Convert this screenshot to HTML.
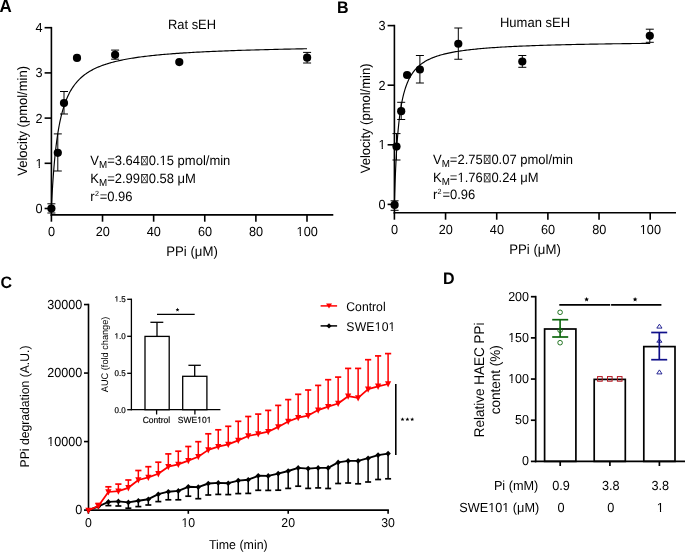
<!DOCTYPE html>
<html><head><meta charset="utf-8"><style>
html,body{margin:0;padding:0;background:#fff;}
svg{display:block;font-family:"Liberation Sans", sans-serif;will-change:transform;text-rendering:geometricPrecision;}
</style></head><body>
<svg width="685" height="552" viewBox="0 0 685 552">
<rect width="685" height="552" fill="#fff"/>
<line x1="51.40" y1="26.90" x2="51.40" y2="215.70" stroke="#000" stroke-width="1.6"/>
<line x1="44.60" y1="208.50" x2="51.40" y2="208.50" stroke="#000" stroke-width="1.6"/>
<text transform="matrix(1,0,0,1.04,0,-8.520)" x="42.60" y="213.00" font-size="12.7" text-anchor="end" font-weight="normal" fill="#000" >0</text>
<line x1="44.60" y1="163.30" x2="51.40" y2="163.30" stroke="#000" stroke-width="1.6"/>
<text transform="matrix(1,0,0,1.04,0,-6.712)" x="42.60" y="167.80" font-size="12.7" text-anchor="end" font-weight="normal" fill="#000" >1</text>
<line x1="44.60" y1="118.10" x2="51.40" y2="118.10" stroke="#000" stroke-width="1.6"/>
<text transform="matrix(1,0,0,1.04,0,-4.904)" x="42.60" y="122.60" font-size="12.7" text-anchor="end" font-weight="normal" fill="#000" >2</text>
<line x1="44.60" y1="72.90" x2="51.40" y2="72.90" stroke="#000" stroke-width="1.6"/>
<text transform="matrix(1,0,0,1.04,0,-3.096)" x="42.60" y="77.40" font-size="12.7" text-anchor="end" font-weight="normal" fill="#000" >3</text>
<line x1="44.60" y1="27.70" x2="51.40" y2="27.70" stroke="#000" stroke-width="1.6"/>
<text transform="matrix(1,0,0,1.04,0,-1.288)" x="42.60" y="32.20" font-size="12.7" text-anchor="end" font-weight="normal" fill="#000" >4</text>
<line x1="50.60" y1="214.90" x2="333.30" y2="214.90" stroke="#000" stroke-width="1.6"/>
<line x1="51.40" y1="214.90" x2="51.40" y2="221.70" stroke="#000" stroke-width="1.6"/>
<text transform="matrix(1,0,0,1.04,0,-9.428)" x="51.60" y="235.70" font-size="12.7" text-anchor="middle" font-weight="normal" fill="#000" >0</text>
<line x1="102.52" y1="214.90" x2="102.52" y2="221.70" stroke="#000" stroke-width="1.6"/>
<text transform="matrix(1,0,0,1.04,0,-9.428)" x="102.72" y="235.70" font-size="12.7" text-anchor="middle" font-weight="normal" fill="#000" >20</text>
<line x1="153.64" y1="214.90" x2="153.64" y2="221.70" stroke="#000" stroke-width="1.6"/>
<text transform="matrix(1,0,0,1.04,0,-9.428)" x="153.84" y="235.70" font-size="12.7" text-anchor="middle" font-weight="normal" fill="#000" >40</text>
<line x1="204.76" y1="214.90" x2="204.76" y2="221.70" stroke="#000" stroke-width="1.6"/>
<text transform="matrix(1,0,0,1.04,0,-9.428)" x="204.96" y="235.70" font-size="12.7" text-anchor="middle" font-weight="normal" fill="#000" >60</text>
<line x1="255.88" y1="214.90" x2="255.88" y2="221.70" stroke="#000" stroke-width="1.6"/>
<text transform="matrix(1,0,0,1.04,0,-9.428)" x="256.08" y="235.70" font-size="12.7" text-anchor="middle" font-weight="normal" fill="#000" >80</text>
<line x1="307.00" y1="214.90" x2="307.00" y2="221.70" stroke="#000" stroke-width="1.6"/>
<text transform="matrix(1,0,0,1.04,0,-9.428)" x="307.20" y="235.70" font-size="12.7" text-anchor="middle" font-weight="normal" fill="#000" >100</text>
<text transform="matrix(1,0,0,1.04,0,-10.260)" x="192.00" y="256.50" font-size="13.2" text-anchor="middle" font-weight="normal" fill="#000" >PPi (μM)</text>
<text transform="matrix(1,0,0,1.04,0,-1.168)" x="192.00" y="29.20" font-size="12.9" text-anchor="middle" font-weight="normal" fill="#000" >Rat sEH</text>
<text x="0" y="0" font-size="13" text-anchor="middle" fill="#000" transform="translate(26.90,120.90) rotate(-90) scale(1,1.04)">Velocity (pmol/min)</text>
<text transform="matrix(1,0,0,1.04,0,-0.472)" x="-0.50" y="11.80" font-size="17.0" text-anchor="start" font-weight="bold" fill="#000" >A</text>
<polyline points="51.40,208.50 51.41,208.36 51.43,207.95 51.46,207.27 51.50,206.33 51.56,205.13 51.63,203.69 51.71,202.02 51.81,200.14 51.92,198.06 52.04,195.80 52.17,193.38 52.32,190.82 52.48,188.13 52.65,185.33 52.84,182.45 53.04,179.49 53.25,176.48 53.47,173.43 53.71,170.35 53.96,167.26 54.22,164.18 54.49,161.10 54.78,158.04 55.08,155.02 55.39,152.03 55.72,149.09 56.06,146.19 56.41,143.35 56.77,140.57 57.15,137.85 57.54,135.20 57.94,132.61 58.36,130.09 58.79,127.64 59.23,125.25 59.68,122.93 60.15,120.69 60.63,118.51 61.12,116.40 61.62,114.35 62.14,112.37 62.67,110.45 63.22,108.59 63.77,106.80 64.34,105.06 64.92,103.38 65.52,101.76 66.12,100.19 66.74,98.68 67.38,97.21 68.02,95.80 68.68,94.43 69.35,93.10 70.03,91.83 70.73,90.59 71.44,89.40 72.16,88.24 72.90,87.12 73.64,86.05 74.40,85.00 75.18,83.99 75.96,83.01 76.76,82.07 77.57,81.16 78.40,80.27 79.23,79.41 80.08,78.59 80.95,77.78 81.82,77.00 82.71,76.25 83.61,75.52 84.53,74.81 85.45,74.13 86.39,73.46 87.34,72.82 88.31,72.20 89.29,71.59 90.28,71.00 91.28,70.43 92.30,69.88 93.32,69.34 94.37,68.82 95.42,68.31 96.49,67.82 97.57,67.34 98.66,66.87 99.77,66.42 100.88,65.98 102.02,65.56 103.16,65.14 104.32,64.74 105.48,64.34 106.67,63.96 107.86,63.59 109.07,63.22 110.29,62.87 111.52,62.53 112.77,62.19 114.03,61.87 115.30,61.55 116.58,61.24 117.88,60.94 119.19,60.64 120.51,60.35 121.85,60.07 123.20,59.80 124.56,59.53 125.93,59.27 127.32,59.02 128.72,58.77 130.13,58.53 131.56,58.29 132.99,58.06 134.44,57.84 135.91,57.62 137.38,57.40 138.87,57.19 140.37,56.99 141.89,56.79 143.42,56.59 144.96,56.40 146.51,56.21 148.07,56.03 149.65,55.85 151.24,55.67 152.85,55.50 154.46,55.33 156.09,55.17 157.74,55.00 159.39,54.85 161.06,54.69 162.74,54.54 164.43,54.39 166.14,54.25 167.86,54.10 169.59,53.96 171.33,53.83 173.09,53.69 174.86,53.56 176.64,53.43 178.44,53.31 180.25,53.18 182.07,53.06 183.90,52.94 185.75,52.83 187.61,52.71 189.48,52.60 191.37,52.49 193.26,52.38 195.18,52.28 197.10,52.17 199.03,52.07 200.98,51.97 202.95,51.87 204.92,51.77 206.91,51.68 208.91,51.59 210.92,51.49 212.95,51.40 214.98,51.32 217.04,51.23 219.10,51.14 221.18,51.06 223.27,50.98 225.37,50.90 227.48,50.82 229.61,50.74 231.75,50.66 233.90,50.58 236.07,50.51 238.25,50.44 240.44,50.36 242.65,50.29 244.86,50.22 247.09,50.16 249.34,50.09 251.59,50.02 253.86,49.96 256.14,49.89 258.44,49.83 260.74,49.77 263.06,49.71 265.39,49.65 267.74,49.59 270.10,49.53 272.47,49.47 274.85,49.41 277.25,49.36 279.66,49.30 282.08,49.25 284.51,49.19 286.96,49.14 289.42,49.09 291.89,49.04 294.38,48.99 296.88,48.94 299.39,48.89 301.91,48.84 304.45,48.80 307.00,48.75" fill="none" stroke="#000" stroke-width="1.15"/>
<line x1="51.40" y1="203.80" x2="51.40" y2="213.00" stroke="#000" stroke-width="1"/>
<line x1="47.40" y1="203.80" x2="55.40" y2="203.80" stroke="#000" stroke-width="1"/>
<line x1="47.40" y1="213.00" x2="55.40" y2="213.00" stroke="#000" stroke-width="1"/>
<circle cx="51.40" cy="208.60" r="4.1" fill="#000"/>
<line x1="57.80" y1="133.90" x2="57.80" y2="171.00" stroke="#000" stroke-width="1"/>
<line x1="53.80" y1="133.90" x2="61.80" y2="133.90" stroke="#000" stroke-width="1"/>
<line x1="53.80" y1="171.00" x2="61.80" y2="171.00" stroke="#000" stroke-width="1"/>
<circle cx="57.80" cy="152.80" r="4.1" fill="#000"/>
<line x1="64.00" y1="91.50" x2="64.00" y2="114.00" stroke="#000" stroke-width="1"/>
<line x1="60.00" y1="91.50" x2="68.00" y2="91.50" stroke="#000" stroke-width="1"/>
<line x1="60.00" y1="114.00" x2="68.00" y2="114.00" stroke="#000" stroke-width="1"/>
<circle cx="64.00" cy="103.10" r="4.1" fill="#000"/>
<circle cx="77.00" cy="57.90" r="4.1" fill="#000"/>
<line x1="115.10" y1="50.10" x2="115.10" y2="59.20" stroke="#000" stroke-width="1"/>
<line x1="111.10" y1="50.10" x2="119.10" y2="50.10" stroke="#000" stroke-width="1"/>
<line x1="111.10" y1="59.20" x2="119.10" y2="59.20" stroke="#000" stroke-width="1"/>
<circle cx="115.10" cy="54.80" r="4.1" fill="#000"/>
<circle cx="179.30" cy="62.10" r="4.1" fill="#000"/>
<line x1="307.10" y1="52.40" x2="307.10" y2="63.00" stroke="#000" stroke-width="1"/>
<line x1="303.10" y1="52.40" x2="311.10" y2="52.40" stroke="#000" stroke-width="1"/>
<line x1="303.10" y1="63.00" x2="311.10" y2="63.00" stroke="#000" stroke-width="1"/>
<circle cx="307.10" cy="57.70" r="4.1" fill="#000"/>
<text transform="matrix(1,0,0,1.04,0,-6.596)" x="90.3" y="164.9" font-size="13">V<tspan font-size="9.8" dy="2.9">M</tspan><tspan dy="-2.9">=3.64</tspan></text>
<rect x="141.60" y="156.60" width="5.70" height="8.20" fill="none" stroke="#222" stroke-width="0.9"/>
<path d="M141.70,156.70 L147.20,164.70 M147.20,156.70 L141.70,164.70" stroke="#222" stroke-width="0.75" fill="none"/>
<text transform="matrix(1,0,0,1.04,0,-6.596)" x="148.70" y="164.90" font-size="13" text-anchor="start" font-weight="normal" fill="#000" >0.15 pmol/min</text>
<text transform="matrix(1,0,0,1.04,0,-7.312)" x="90.3" y="182.8" font-size="13">K<tspan font-size="9.8" dy="2.9">M</tspan><tspan dy="-2.9">=2.99</tspan></text>
<rect x="141.60" y="174.50" width="5.70" height="8.20" fill="none" stroke="#222" stroke-width="0.9"/>
<path d="M141.70,174.60 L147.20,182.60 M147.20,174.60 L141.70,182.60" stroke="#222" stroke-width="0.75" fill="none"/>
<text transform="matrix(1,0,0,1.04,0,-7.312)" x="148.70" y="182.80" font-size="13" text-anchor="start" font-weight="normal" fill="#000" >0.58 μM</text>
<text transform="matrix(1,0,0,1.04,0,-8.032)" x="90.30" y="200.80" font-size="13">r<tspan x="94.90" dy="-4.8" font-size="7.2">2</tspan><tspan x="99.70" dy="4.8">=0.96</tspan></text>
<line x1="394.40" y1="24.80" x2="394.40" y2="213.50" stroke="#000" stroke-width="1.6"/>
<line x1="387.60" y1="204.40" x2="394.40" y2="204.40" stroke="#000" stroke-width="1.6"/>
<text transform="matrix(1,0,0,1.04,0,-8.356)" x="385.60" y="208.90" font-size="12.7" text-anchor="end" font-weight="normal" fill="#000" >0</text>
<line x1="387.60" y1="144.80" x2="394.40" y2="144.80" stroke="#000" stroke-width="1.6"/>
<text transform="matrix(1,0,0,1.04,0,-5.972)" x="385.60" y="149.30" font-size="12.7" text-anchor="end" font-weight="normal" fill="#000" >1</text>
<line x1="387.60" y1="85.20" x2="394.40" y2="85.20" stroke="#000" stroke-width="1.6"/>
<text transform="matrix(1,0,0,1.04,0,-3.588)" x="385.60" y="89.70" font-size="12.7" text-anchor="end" font-weight="normal" fill="#000" >2</text>
<line x1="387.60" y1="25.60" x2="394.40" y2="25.60" stroke="#000" stroke-width="1.6"/>
<text transform="matrix(1,0,0,1.04,0,-1.204)" x="385.60" y="30.10" font-size="12.7" text-anchor="end" font-weight="normal" fill="#000" >3</text>
<line x1="393.60" y1="212.70" x2="676.00" y2="212.70" stroke="#000" stroke-width="1.6"/>
<line x1="394.40" y1="212.70" x2="394.40" y2="219.70" stroke="#000" stroke-width="1.6"/>
<text transform="matrix(1,0,0,1.04,0,-9.356)" x="394.60" y="233.90" font-size="12.7" text-anchor="middle" font-weight="normal" fill="#000" >0</text>
<line x1="445.56" y1="212.70" x2="445.56" y2="219.70" stroke="#000" stroke-width="1.6"/>
<text transform="matrix(1,0,0,1.04,0,-9.356)" x="445.76" y="233.90" font-size="12.7" text-anchor="middle" font-weight="normal" fill="#000" >20</text>
<line x1="496.72" y1="212.70" x2="496.72" y2="219.70" stroke="#000" stroke-width="1.6"/>
<text transform="matrix(1,0,0,1.04,0,-9.356)" x="496.92" y="233.90" font-size="12.7" text-anchor="middle" font-weight="normal" fill="#000" >40</text>
<line x1="547.88" y1="212.70" x2="547.88" y2="219.70" stroke="#000" stroke-width="1.6"/>
<text transform="matrix(1,0,0,1.04,0,-9.356)" x="548.08" y="233.90" font-size="12.7" text-anchor="middle" font-weight="normal" fill="#000" >60</text>
<line x1="599.04" y1="212.70" x2="599.04" y2="219.70" stroke="#000" stroke-width="1.6"/>
<text transform="matrix(1,0,0,1.04,0,-9.356)" x="599.24" y="233.90" font-size="12.7" text-anchor="middle" font-weight="normal" fill="#000" >80</text>
<line x1="650.20" y1="212.70" x2="650.20" y2="219.70" stroke="#000" stroke-width="1.6"/>
<text transform="matrix(1,0,0,1.04,0,-9.356)" x="650.40" y="233.90" font-size="12.7" text-anchor="middle" font-weight="normal" fill="#000" >100</text>
<text transform="matrix(1,0,0,1.04,0,-10.176)" x="535.00" y="254.40" font-size="13.2" text-anchor="middle" font-weight="normal" fill="#000" >PPi (μM)</text>
<text transform="matrix(1,0,0,1.04,0,-1.092)" x="535.00" y="27.30" font-size="13.0" text-anchor="middle" font-weight="normal" fill="#000" >Human sEH</text>
<text x="0" y="0" font-size="13" text-anchor="middle" fill="#000" transform="translate(370.00,118.40) rotate(-90) scale(1,1.04)">Velocity (pmol/min)</text>
<text transform="matrix(1,0,0,1.04,0,-0.512)" x="337.00" y="12.80" font-size="16" text-anchor="start" font-weight="bold" fill="#000" >B</text>
<polyline points="394.40,204.40 394.41,204.17 394.43,203.47 394.46,202.33 394.50,200.76 394.56,198.78 394.63,196.43 394.71,193.73 394.81,190.74 394.92,187.49 395.04,184.01 395.17,180.36 395.32,176.57 395.48,172.67 395.65,168.71 395.84,164.70 396.04,160.69 396.25,156.70 396.47,152.74 396.71,148.84 396.96,145.02 397.22,141.27 397.50,137.63 397.78,134.08 398.08,130.65 398.40,127.32 398.72,124.11 399.06,121.02 399.41,118.04 399.78,115.18 400.16,112.44 400.55,109.80 400.95,107.27 401.36,104.85 401.79,102.54 402.23,100.32 402.69,98.19 403.15,96.16 403.63,94.22 404.13,92.36 404.63,90.58 405.15,88.88 405.68,87.25 406.22,85.70 406.78,84.21 407.35,82.78 407.93,81.42 408.53,80.11 409.13,78.86 409.75,77.66 410.39,76.51 411.03,75.41 411.69,74.36 412.36,73.35 413.05,72.37 413.74,71.44 414.45,70.55 415.18,69.69 415.91,68.86 416.66,68.07 417.42,67.31 418.20,66.58 418.98,65.87 419.78,65.19 420.59,64.54 421.42,63.91 422.26,63.30 423.11,62.72 423.97,62.16 424.85,61.61 425.74,61.09 426.64,60.58 427.55,60.10 428.48,59.63 429.42,59.17 430.37,58.73 431.34,58.31 432.32,57.90 433.31,57.50 434.31,57.11 435.33,56.74 436.36,56.38 437.40,56.03 438.46,55.70 439.52,55.37 440.60,55.05 441.70,54.75 442.80,54.45 443.92,54.16 445.05,53.88 446.20,53.61 447.36,53.34 448.53,53.09 449.71,52.84 450.91,52.59 452.11,52.36 453.34,52.13 454.57,51.91 455.82,51.69 457.08,51.48 458.35,51.28 459.64,51.08 460.93,50.89 462.24,50.70 463.57,50.52 464.90,50.34 466.25,50.16 467.62,49.99 468.99,49.83 470.38,49.67 471.78,49.51 473.19,49.36 474.62,49.21 476.06,49.06 477.51,48.92 478.97,48.78 480.45,48.65 481.94,48.52 483.44,48.39 484.96,48.26 486.49,48.14 488.03,48.02 489.58,47.90 491.15,47.79 492.73,47.68 494.32,47.57 495.93,47.46 497.54,47.35 499.18,47.25 500.82,47.15 502.48,47.05 504.14,46.96 505.83,46.87 507.52,46.77 509.23,46.68 510.95,46.60 512.68,46.51 514.43,46.43 516.19,46.34 517.96,46.26 519.74,46.18 521.54,46.11 523.35,46.03 525.17,45.95 527.01,45.88 528.85,45.81 530.72,45.74 532.59,45.67 534.48,45.60 536.38,45.54 538.29,45.47 540.21,45.41 542.15,45.35 544.10,45.29 546.06,45.23 548.04,45.17 550.03,45.11 552.03,45.05 554.04,45.00 556.07,44.94 558.11,44.89 560.16,44.83 562.23,44.78 564.31,44.73 566.40,44.68 568.50,44.63 570.62,44.58 572.75,44.54 574.89,44.49 577.05,44.44 579.22,44.40 581.40,44.35 583.59,44.31 585.80,44.27 588.02,44.22 590.25,44.18 592.49,44.14 594.75,44.10 597.02,44.06 599.30,44.02 601.60,43.99 603.91,43.95 606.23,43.91 608.56,43.87 610.91,43.84 613.27,43.80 615.64,43.77 618.03,43.73 620.42,43.70 622.84,43.67 625.26,43.64 627.70,43.60 630.15,43.57 632.61,43.54 635.08,43.51 637.57,43.48 640.07,43.45 642.58,43.42 645.11,43.39 647.65,43.36 650.20,43.33" fill="none" stroke="#000" stroke-width="1.15"/>
<line x1="394.60" y1="200.80" x2="394.60" y2="210.30" stroke="#000" stroke-width="1"/>
<line x1="390.60" y1="200.80" x2="398.60" y2="200.80" stroke="#000" stroke-width="1"/>
<line x1="390.60" y1="210.30" x2="398.60" y2="210.30" stroke="#000" stroke-width="1"/>
<circle cx="394.60" cy="204.90" r="4.1" fill="#000"/>
<line x1="396.50" y1="133.60" x2="396.50" y2="160.00" stroke="#000" stroke-width="1"/>
<line x1="392.50" y1="133.60" x2="400.50" y2="133.60" stroke="#000" stroke-width="1"/>
<line x1="392.50" y1="160.00" x2="400.50" y2="160.00" stroke="#000" stroke-width="1"/>
<circle cx="396.50" cy="146.60" r="4.1" fill="#000"/>
<line x1="401.20" y1="102.30" x2="401.20" y2="119.50" stroke="#000" stroke-width="1"/>
<line x1="397.20" y1="102.30" x2="405.20" y2="102.30" stroke="#000" stroke-width="1"/>
<line x1="397.20" y1="119.50" x2="405.20" y2="119.50" stroke="#000" stroke-width="1"/>
<circle cx="401.20" cy="111.20" r="4.1" fill="#000"/>
<circle cx="407.10" cy="75.00" r="4.1" fill="#000"/>
<line x1="419.90" y1="55.50" x2="419.90" y2="83.00" stroke="#000" stroke-width="1"/>
<line x1="415.90" y1="55.50" x2="423.90" y2="55.50" stroke="#000" stroke-width="1"/>
<line x1="415.90" y1="83.00" x2="423.90" y2="83.00" stroke="#000" stroke-width="1"/>
<circle cx="419.90" cy="69.50" r="4.1" fill="#000"/>
<line x1="458.30" y1="28.00" x2="458.30" y2="59.25" stroke="#000" stroke-width="1"/>
<line x1="454.30" y1="28.00" x2="462.30" y2="28.00" stroke="#000" stroke-width="1"/>
<line x1="454.30" y1="59.25" x2="462.30" y2="59.25" stroke="#000" stroke-width="1"/>
<circle cx="458.30" cy="43.75" r="4.1" fill="#000"/>
<line x1="522.30" y1="55.50" x2="522.30" y2="67.30" stroke="#000" stroke-width="1"/>
<line x1="518.30" y1="55.50" x2="526.30" y2="55.50" stroke="#000" stroke-width="1"/>
<line x1="518.30" y1="67.30" x2="526.30" y2="67.30" stroke="#000" stroke-width="1"/>
<circle cx="522.30" cy="61.50" r="4.1" fill="#000"/>
<line x1="649.80" y1="29.20" x2="649.80" y2="42.30" stroke="#000" stroke-width="1"/>
<line x1="645.80" y1="29.20" x2="653.80" y2="29.20" stroke="#000" stroke-width="1"/>
<line x1="645.80" y1="42.30" x2="653.80" y2="42.30" stroke="#000" stroke-width="1"/>
<circle cx="649.80" cy="35.80" r="4.1" fill="#000"/>
<text transform="matrix(1,0,0,1.04,0,-6.544)" x="433.0" y="163.6" font-size="13">V<tspan font-size="9.8" dy="2.9">M</tspan><tspan dy="-2.9">=2.75</tspan></text>
<rect x="484.30" y="155.30" width="5.70" height="8.20" fill="none" stroke="#222" stroke-width="0.9"/>
<path d="M484.40,155.40 L489.90,163.40 M489.90,155.40 L484.40,163.40" stroke="#222" stroke-width="0.75" fill="none"/>
<text transform="matrix(1,0,0,1.04,0,-6.544)" x="491.40" y="163.60" font-size="13" text-anchor="start" font-weight="normal" fill="#000" >0.07 pmol/min</text>
<text transform="matrix(1,0,0,1.04,0,-7.280)" x="433.0" y="182.0" font-size="13">K<tspan font-size="9.8" dy="2.9">M</tspan><tspan dy="-2.9">=1.76</tspan></text>
<rect x="484.30" y="173.70" width="5.70" height="8.20" fill="none" stroke="#222" stroke-width="0.9"/>
<path d="M484.40,173.80 L489.90,181.80 M489.90,173.80 L484.40,181.80" stroke="#222" stroke-width="0.75" fill="none"/>
<text transform="matrix(1,0,0,1.04,0,-7.280)" x="491.40" y="182.00" font-size="13" text-anchor="start" font-weight="normal" fill="#000" >0.24 μM</text>
<text transform="matrix(1,0,0,1.04,0,-7.964)" x="433.00" y="199.10" font-size="13">r<tspan x="437.60" dy="-4.8" font-size="7.2">2</tspan><tspan x="442.40" dy="4.8">=0.96</tspan></text>
<text transform="matrix(1,0,0,1.04,0,-11.540)" x="0.50" y="288.50" font-size="16" text-anchor="start" font-weight="bold" fill="#000" >C</text>
<line x1="88.50" y1="303.75" x2="88.50" y2="510.90" stroke="#000" stroke-width="1.6"/>
<line x1="84.00" y1="510.10" x2="88.50" y2="510.10" stroke="#000" stroke-width="1.6"/>
<text transform="matrix(1,0,0,1.04,0,-20.580)" x="82.30" y="514.50" font-size="12.6" text-anchor="end" font-weight="normal" fill="#000" >0</text>
<line x1="84.00" y1="441.58" x2="88.50" y2="441.58" stroke="#000" stroke-width="1.6"/>
<text transform="matrix(1,0,0,1.04,0,-17.839)" x="82.30" y="445.98" font-size="12.6" text-anchor="end" font-weight="normal" fill="#000" >10000</text>
<line x1="84.00" y1="373.07" x2="88.50" y2="373.07" stroke="#000" stroke-width="1.6"/>
<text transform="matrix(1,0,0,1.04,0,-15.099)" x="82.30" y="377.47" font-size="12.6" text-anchor="end" font-weight="normal" fill="#000" >20000</text>
<line x1="84.00" y1="304.55" x2="88.50" y2="304.55" stroke="#000" stroke-width="1.6"/>
<text transform="matrix(1,0,0,1.04,0,-12.358)" x="82.30" y="308.95" font-size="12.6" text-anchor="end" font-weight="normal" fill="#000" >30000</text>
<line x1="87.70" y1="510.10" x2="388.90" y2="510.10" stroke="#000" stroke-width="1.6"/>
<line x1="88.40" y1="510.10" x2="88.40" y2="513.80" stroke="#000" stroke-width="1.6"/>
<text transform="matrix(1,0,0,1.04,0,-21.088)" x="88.40" y="527.20" font-size="12.3" text-anchor="middle" font-weight="normal" fill="#000" >0</text>
<line x1="188.30" y1="510.10" x2="188.30" y2="513.80" stroke="#000" stroke-width="1.6"/>
<text transform="matrix(1,0,0,1.04,0,-21.088)" x="188.30" y="527.20" font-size="12.3" text-anchor="middle" font-weight="normal" fill="#000" >10</text>
<line x1="288.20" y1="510.10" x2="288.20" y2="513.80" stroke="#000" stroke-width="1.6"/>
<text transform="matrix(1,0,0,1.04,0,-21.088)" x="288.20" y="527.20" font-size="12.3" text-anchor="middle" font-weight="normal" fill="#000" >20</text>
<line x1="388.10" y1="510.10" x2="388.10" y2="513.80" stroke="#000" stroke-width="1.6"/>
<text transform="matrix(1,0,0,1.04,0,-21.088)" x="388.10" y="527.20" font-size="12.3" text-anchor="middle" font-weight="normal" fill="#000" >30</text>
<text transform="matrix(1,0,0,1.04,0,-21.948)" x="238.30" y="548.70" font-size="12.4" text-anchor="middle" font-weight="normal" fill="#000" >Time (min)</text>
<text x="0" y="0" font-size="12.2" text-anchor="middle" fill="#000" transform="translate(28.90,406.50) rotate(-90) scale(1,1.04)">PPi degradation (A.U.)</text>
<polyline points="88.40,510.10 98.39,506.50 108.38,501.90 118.37,501.40 128.36,502.40 138.35,500.80 148.34,499.20 158.33,494.20 168.32,491.70 178.31,490.90 188.30,486.80 198.29,487.10 208.28,483.50 218.27,482.90 228.26,483.20 238.25,480.60 248.24,479.70 258.23,475.80 268.22,475.90 278.21,473.60 288.20,471.00 298.19,467.90 308.18,468.60 318.17,467.90 328.16,467.90 338.15,462.40 348.14,460.90 358.13,460.90 368.12,458.20 378.11,455.10 388.10,453.60" fill="none" stroke="#000" stroke-width="1.9" stroke-linejoin="round"/>
<path d="M88.40,507.30 L91.10,510.10 L88.40,512.90 L85.70,510.10 Z" fill="#000"/>
<path d="M98.39,503.70 L101.09,506.50 L98.39,509.30 L95.69,506.50 Z" fill="#000"/>
<line x1="108.38" y1="501.90" x2="108.38" y2="505.60" stroke="#000" stroke-width="1.5"/>
<line x1="105.38" y1="505.60" x2="111.38" y2="505.60" stroke="#000" stroke-width="1.7"/>
<path d="M108.38,499.10 L111.08,501.90 L108.38,504.70 L105.68,501.90 Z" fill="#000"/>
<line x1="118.37" y1="501.40" x2="118.37" y2="506.00" stroke="#000" stroke-width="1.5"/>
<line x1="115.37" y1="506.00" x2="121.37" y2="506.00" stroke="#000" stroke-width="1.7"/>
<path d="M118.37,498.60 L121.07,501.40 L118.37,504.20 L115.67,501.40 Z" fill="#000"/>
<line x1="128.36" y1="502.40" x2="128.36" y2="508.20" stroke="#000" stroke-width="1.5"/>
<line x1="125.36" y1="508.20" x2="131.36" y2="508.20" stroke="#000" stroke-width="1.7"/>
<path d="M128.36,499.60 L131.06,502.40 L128.36,505.20 L125.66,502.40 Z" fill="#000"/>
<line x1="138.35" y1="500.80" x2="138.35" y2="506.60" stroke="#000" stroke-width="1.5"/>
<line x1="135.35" y1="506.60" x2="141.35" y2="506.60" stroke="#000" stroke-width="1.7"/>
<path d="M138.35,498.00 L141.05,500.80 L138.35,503.60 L135.65,500.80 Z" fill="#000"/>
<line x1="148.34" y1="499.20" x2="148.34" y2="505.00" stroke="#000" stroke-width="1.5"/>
<line x1="145.34" y1="505.00" x2="151.34" y2="505.00" stroke="#000" stroke-width="1.7"/>
<path d="M148.34,496.40 L151.04,499.20 L148.34,502.00 L145.64,499.20 Z" fill="#000"/>
<line x1="158.33" y1="494.20" x2="158.33" y2="501.60" stroke="#000" stroke-width="1.5"/>
<line x1="155.33" y1="501.60" x2="161.33" y2="501.60" stroke="#000" stroke-width="1.7"/>
<path d="M158.33,491.40 L161.03,494.20 L158.33,497.00 L155.63,494.20 Z" fill="#000"/>
<line x1="168.32" y1="491.70" x2="168.32" y2="499.80" stroke="#000" stroke-width="1.5"/>
<line x1="165.32" y1="499.80" x2="171.32" y2="499.80" stroke="#000" stroke-width="1.7"/>
<path d="M168.32,488.90 L171.02,491.70 L168.32,494.50 L165.62,491.70 Z" fill="#000"/>
<line x1="178.31" y1="490.90" x2="178.31" y2="499.80" stroke="#000" stroke-width="1.5"/>
<line x1="175.31" y1="499.80" x2="181.31" y2="499.80" stroke="#000" stroke-width="1.7"/>
<path d="M178.31,488.10 L181.01,490.90 L178.31,493.70 L175.61,490.90 Z" fill="#000"/>
<line x1="188.30" y1="486.80" x2="188.30" y2="496.20" stroke="#000" stroke-width="1.5"/>
<line x1="185.30" y1="496.20" x2="191.30" y2="496.20" stroke="#000" stroke-width="1.7"/>
<path d="M188.30,484.00 L191.00,486.80 L188.30,489.60 L185.60,486.80 Z" fill="#000"/>
<line x1="198.29" y1="487.10" x2="198.29" y2="498.70" stroke="#000" stroke-width="1.5"/>
<line x1="195.29" y1="498.70" x2="201.29" y2="498.70" stroke="#000" stroke-width="1.7"/>
<path d="M198.29,484.30 L200.99,487.10 L198.29,489.90 L195.59,487.10 Z" fill="#000"/>
<line x1="208.28" y1="483.50" x2="208.28" y2="495.00" stroke="#000" stroke-width="1.5"/>
<line x1="205.28" y1="495.00" x2="211.28" y2="495.00" stroke="#000" stroke-width="1.7"/>
<path d="M208.28,480.70 L210.98,483.50 L208.28,486.30 L205.58,483.50 Z" fill="#000"/>
<line x1="218.27" y1="482.90" x2="218.27" y2="494.40" stroke="#000" stroke-width="1.5"/>
<line x1="215.27" y1="494.40" x2="221.27" y2="494.40" stroke="#000" stroke-width="1.7"/>
<path d="M218.27,480.10 L220.97,482.90 L218.27,485.70 L215.57,482.90 Z" fill="#000"/>
<line x1="228.26" y1="483.20" x2="228.26" y2="494.60" stroke="#000" stroke-width="1.5"/>
<line x1="225.26" y1="494.60" x2="231.26" y2="494.60" stroke="#000" stroke-width="1.7"/>
<path d="M228.26,480.40 L230.96,483.20 L228.26,486.00 L225.56,483.20 Z" fill="#000"/>
<line x1="238.25" y1="480.60" x2="238.25" y2="493.60" stroke="#000" stroke-width="1.5"/>
<line x1="235.25" y1="493.60" x2="241.25" y2="493.60" stroke="#000" stroke-width="1.7"/>
<path d="M238.25,477.80 L240.95,480.60 L238.25,483.40 L235.55,480.60 Z" fill="#000"/>
<line x1="248.24" y1="479.70" x2="248.24" y2="493.40" stroke="#000" stroke-width="1.5"/>
<line x1="245.24" y1="493.40" x2="251.24" y2="493.40" stroke="#000" stroke-width="1.7"/>
<path d="M248.24,476.90 L250.94,479.70 L248.24,482.50 L245.54,479.70 Z" fill="#000"/>
<line x1="258.23" y1="475.80" x2="258.23" y2="490.30" stroke="#000" stroke-width="1.5"/>
<line x1="255.23" y1="490.30" x2="261.23" y2="490.30" stroke="#000" stroke-width="1.7"/>
<path d="M258.23,473.00 L260.93,475.80 L258.23,478.60 L255.53,475.80 Z" fill="#000"/>
<line x1="268.22" y1="475.90" x2="268.22" y2="490.40" stroke="#000" stroke-width="1.5"/>
<line x1="265.22" y1="490.40" x2="271.22" y2="490.40" stroke="#000" stroke-width="1.7"/>
<path d="M268.22,473.10 L270.92,475.90 L268.22,478.70 L265.52,475.90 Z" fill="#000"/>
<line x1="278.21" y1="473.60" x2="278.21" y2="490.20" stroke="#000" stroke-width="1.5"/>
<line x1="275.21" y1="490.20" x2="281.21" y2="490.20" stroke="#000" stroke-width="1.7"/>
<path d="M278.21,470.80 L280.91,473.60 L278.21,476.40 L275.51,473.60 Z" fill="#000"/>
<line x1="288.20" y1="471.00" x2="288.20" y2="488.40" stroke="#000" stroke-width="1.5"/>
<line x1="285.20" y1="488.40" x2="291.20" y2="488.40" stroke="#000" stroke-width="1.7"/>
<path d="M288.20,468.20 L290.90,471.00 L288.20,473.80 L285.50,471.00 Z" fill="#000"/>
<line x1="298.19" y1="467.90" x2="298.19" y2="486.20" stroke="#000" stroke-width="1.5"/>
<line x1="295.19" y1="486.20" x2="301.19" y2="486.20" stroke="#000" stroke-width="1.7"/>
<path d="M298.19,465.10 L300.89,467.90 L298.19,470.70 L295.49,467.90 Z" fill="#000"/>
<line x1="308.18" y1="468.60" x2="308.18" y2="488.40" stroke="#000" stroke-width="1.5"/>
<line x1="305.18" y1="488.40" x2="311.18" y2="488.40" stroke="#000" stroke-width="1.7"/>
<path d="M308.18,465.80 L310.88,468.60 L308.18,471.40 L305.48,468.60 Z" fill="#000"/>
<line x1="318.17" y1="467.90" x2="318.17" y2="487.90" stroke="#000" stroke-width="1.5"/>
<line x1="315.17" y1="487.90" x2="321.17" y2="487.90" stroke="#000" stroke-width="1.7"/>
<path d="M318.17,465.10 L320.87,467.90 L318.17,470.70 L315.47,467.90 Z" fill="#000"/>
<line x1="328.16" y1="467.90" x2="328.16" y2="488.50" stroke="#000" stroke-width="1.5"/>
<line x1="325.16" y1="488.50" x2="331.16" y2="488.50" stroke="#000" stroke-width="1.7"/>
<path d="M328.16,465.10 L330.86,467.90 L328.16,470.70 L325.46,467.90 Z" fill="#000"/>
<line x1="338.15" y1="462.40" x2="338.15" y2="483.50" stroke="#000" stroke-width="1.5"/>
<line x1="335.15" y1="483.50" x2="341.15" y2="483.50" stroke="#000" stroke-width="1.7"/>
<path d="M338.15,459.60 L340.85,462.40 L338.15,465.20 L335.45,462.40 Z" fill="#000"/>
<line x1="348.14" y1="460.90" x2="348.14" y2="483.00" stroke="#000" stroke-width="1.5"/>
<line x1="345.14" y1="483.00" x2="351.14" y2="483.00" stroke="#000" stroke-width="1.7"/>
<path d="M348.14,458.10 L350.84,460.90 L348.14,463.70 L345.44,460.90 Z" fill="#000"/>
<line x1="358.13" y1="460.90" x2="358.13" y2="483.80" stroke="#000" stroke-width="1.5"/>
<line x1="355.13" y1="483.80" x2="361.13" y2="483.80" stroke="#000" stroke-width="1.7"/>
<path d="M358.13,458.10 L360.83,460.90 L358.13,463.70 L355.43,460.90 Z" fill="#000"/>
<line x1="368.12" y1="458.20" x2="368.12" y2="482.00" stroke="#000" stroke-width="1.5"/>
<line x1="365.12" y1="482.00" x2="371.12" y2="482.00" stroke="#000" stroke-width="1.7"/>
<path d="M368.12,455.40 L370.82,458.20 L368.12,461.00 L365.42,458.20 Z" fill="#000"/>
<line x1="378.11" y1="455.10" x2="378.11" y2="479.50" stroke="#000" stroke-width="1.5"/>
<line x1="375.11" y1="479.50" x2="381.11" y2="479.50" stroke="#000" stroke-width="1.7"/>
<path d="M378.11,452.30 L380.81,455.10 L378.11,457.90 L375.41,455.10 Z" fill="#000"/>
<line x1="388.10" y1="453.60" x2="388.10" y2="478.80" stroke="#000" stroke-width="1.5"/>
<line x1="385.10" y1="478.80" x2="391.10" y2="478.80" stroke="#000" stroke-width="1.7"/>
<path d="M388.10,450.80 L390.80,453.60 L388.10,456.40 L385.40,453.60 Z" fill="#000"/>
<polyline points="88.40,510.40 98.39,506.00 108.38,492.00 118.37,491.10 128.36,487.80 138.35,480.00 148.34,477.40 158.33,473.80 168.32,466.70 178.31,464.40 188.30,460.60 198.29,456.70 208.28,449.90 218.27,446.60 228.26,444.40 238.25,440.40 248.24,436.00 258.23,433.90 268.22,431.70 278.21,426.90 288.20,421.50 298.19,417.60 308.18,415.60 318.17,410.10 328.16,406.70 338.15,403.50 348.14,396.20 358.13,397.90 368.12,389.20 378.11,386.30 388.10,384.00" fill="none" stroke="#ff0000" stroke-width="1.75" stroke-linejoin="round"/>
<path d="M85.30,507.70 L91.50,507.70 L88.40,514.00 Z" fill="#ff0000"/>
<line x1="98.39" y1="506.00" x2="98.39" y2="503.50" stroke="#ff0000" stroke-width="1.5"/>
<line x1="95.29" y1="503.50" x2="101.49" y2="503.50" stroke="#ff0000" stroke-width="1.7"/>
<path d="M95.29,503.30 L101.49,503.30 L98.39,509.60 Z" fill="#ff0000"/>
<line x1="108.38" y1="492.00" x2="108.38" y2="486.80" stroke="#ff0000" stroke-width="1.5"/>
<line x1="105.28" y1="486.80" x2="111.48" y2="486.80" stroke="#ff0000" stroke-width="1.7"/>
<path d="M105.28,489.30 L111.48,489.30 L108.38,495.60 Z" fill="#ff0000"/>
<line x1="118.37" y1="491.10" x2="118.37" y2="484.10" stroke="#ff0000" stroke-width="1.5"/>
<line x1="115.27" y1="484.10" x2="121.47" y2="484.10" stroke="#ff0000" stroke-width="1.7"/>
<path d="M115.27,488.40 L121.47,488.40 L118.37,494.70 Z" fill="#ff0000"/>
<line x1="128.36" y1="487.80" x2="128.36" y2="480.00" stroke="#ff0000" stroke-width="1.5"/>
<line x1="125.26" y1="480.00" x2="131.46" y2="480.00" stroke="#ff0000" stroke-width="1.7"/>
<path d="M125.26,485.10 L131.46,485.10 L128.36,491.40 Z" fill="#ff0000"/>
<line x1="138.35" y1="480.00" x2="138.35" y2="470.50" stroke="#ff0000" stroke-width="1.5"/>
<line x1="135.25" y1="470.50" x2="141.45" y2="470.50" stroke="#ff0000" stroke-width="1.7"/>
<path d="M135.25,477.30 L141.45,477.30 L138.35,483.60 Z" fill="#ff0000"/>
<line x1="148.34" y1="477.40" x2="148.34" y2="466.70" stroke="#ff0000" stroke-width="1.5"/>
<line x1="145.24" y1="466.70" x2="151.44" y2="466.70" stroke="#ff0000" stroke-width="1.7"/>
<path d="M145.24,474.70 L151.44,474.70 L148.34,481.00 Z" fill="#ff0000"/>
<line x1="158.33" y1="473.80" x2="158.33" y2="462.20" stroke="#ff0000" stroke-width="1.5"/>
<line x1="155.23" y1="462.20" x2="161.43" y2="462.20" stroke="#ff0000" stroke-width="1.7"/>
<path d="M155.23,471.10 L161.43,471.10 L158.33,477.40 Z" fill="#ff0000"/>
<line x1="168.32" y1="466.70" x2="168.32" y2="453.90" stroke="#ff0000" stroke-width="1.5"/>
<line x1="165.22" y1="453.90" x2="171.42" y2="453.90" stroke="#ff0000" stroke-width="1.7"/>
<path d="M165.22,464.00 L171.42,464.00 L168.32,470.30 Z" fill="#ff0000"/>
<line x1="178.31" y1="464.40" x2="178.31" y2="451.20" stroke="#ff0000" stroke-width="1.5"/>
<line x1="175.21" y1="451.20" x2="181.41" y2="451.20" stroke="#ff0000" stroke-width="1.7"/>
<path d="M175.21,461.70 L181.41,461.70 L178.31,468.00 Z" fill="#ff0000"/>
<line x1="188.30" y1="460.60" x2="188.30" y2="446.50" stroke="#ff0000" stroke-width="1.5"/>
<line x1="185.20" y1="446.50" x2="191.40" y2="446.50" stroke="#ff0000" stroke-width="1.7"/>
<path d="M185.20,457.90 L191.40,457.90 L188.30,464.20 Z" fill="#ff0000"/>
<line x1="198.29" y1="456.70" x2="198.29" y2="441.70" stroke="#ff0000" stroke-width="1.5"/>
<line x1="195.19" y1="441.70" x2="201.39" y2="441.70" stroke="#ff0000" stroke-width="1.7"/>
<path d="M195.19,454.00 L201.39,454.00 L198.29,460.30 Z" fill="#ff0000"/>
<line x1="208.28" y1="449.90" x2="208.28" y2="433.80" stroke="#ff0000" stroke-width="1.5"/>
<line x1="205.18" y1="433.80" x2="211.38" y2="433.80" stroke="#ff0000" stroke-width="1.7"/>
<path d="M205.18,447.20 L211.38,447.20 L208.28,453.50 Z" fill="#ff0000"/>
<line x1="218.27" y1="446.60" x2="218.27" y2="429.80" stroke="#ff0000" stroke-width="1.5"/>
<line x1="215.17" y1="429.80" x2="221.37" y2="429.80" stroke="#ff0000" stroke-width="1.7"/>
<path d="M215.17,443.90 L221.37,443.90 L218.27,450.20 Z" fill="#ff0000"/>
<line x1="228.26" y1="444.40" x2="228.26" y2="426.30" stroke="#ff0000" stroke-width="1.5"/>
<line x1="225.16" y1="426.30" x2="231.36" y2="426.30" stroke="#ff0000" stroke-width="1.7"/>
<path d="M225.16,441.70 L231.36,441.70 L228.26,448.00 Z" fill="#ff0000"/>
<line x1="238.25" y1="440.40" x2="238.25" y2="421.30" stroke="#ff0000" stroke-width="1.5"/>
<line x1="235.15" y1="421.30" x2="241.35" y2="421.30" stroke="#ff0000" stroke-width="1.7"/>
<path d="M235.15,437.70 L241.35,437.70 L238.25,444.00 Z" fill="#ff0000"/>
<line x1="248.24" y1="436.00" x2="248.24" y2="416.50" stroke="#ff0000" stroke-width="1.5"/>
<line x1="245.14" y1="416.50" x2="251.34" y2="416.50" stroke="#ff0000" stroke-width="1.7"/>
<path d="M245.14,433.30 L251.34,433.30 L248.24,439.60 Z" fill="#ff0000"/>
<line x1="258.23" y1="433.90" x2="258.23" y2="414.10" stroke="#ff0000" stroke-width="1.5"/>
<line x1="255.13" y1="414.10" x2="261.33" y2="414.10" stroke="#ff0000" stroke-width="1.7"/>
<path d="M255.13,431.20 L261.33,431.20 L258.23,437.50 Z" fill="#ff0000"/>
<line x1="268.22" y1="431.70" x2="268.22" y2="410.40" stroke="#ff0000" stroke-width="1.5"/>
<line x1="265.12" y1="410.40" x2="271.32" y2="410.40" stroke="#ff0000" stroke-width="1.7"/>
<path d="M265.12,429.00 L271.32,429.00 L268.22,435.30 Z" fill="#ff0000"/>
<line x1="278.21" y1="426.90" x2="278.21" y2="405.40" stroke="#ff0000" stroke-width="1.5"/>
<line x1="275.11" y1="405.40" x2="281.31" y2="405.40" stroke="#ff0000" stroke-width="1.7"/>
<path d="M275.11,424.20 L281.31,424.20 L278.21,430.50 Z" fill="#ff0000"/>
<line x1="288.20" y1="421.50" x2="288.20" y2="399.60" stroke="#ff0000" stroke-width="1.5"/>
<line x1="285.10" y1="399.60" x2="291.30" y2="399.60" stroke="#ff0000" stroke-width="1.7"/>
<path d="M285.10,418.80 L291.30,418.80 L288.20,425.10 Z" fill="#ff0000"/>
<line x1="298.19" y1="417.60" x2="298.19" y2="394.30" stroke="#ff0000" stroke-width="1.5"/>
<line x1="295.09" y1="394.30" x2="301.29" y2="394.30" stroke="#ff0000" stroke-width="1.7"/>
<path d="M295.09,414.90 L301.29,414.90 L298.19,421.20 Z" fill="#ff0000"/>
<line x1="308.18" y1="415.60" x2="308.18" y2="390.00" stroke="#ff0000" stroke-width="1.5"/>
<line x1="305.08" y1="390.00" x2="311.28" y2="390.00" stroke="#ff0000" stroke-width="1.7"/>
<path d="M305.08,412.90 L311.28,412.90 L308.18,419.20 Z" fill="#ff0000"/>
<line x1="318.17" y1="410.10" x2="318.17" y2="385.40" stroke="#ff0000" stroke-width="1.5"/>
<line x1="315.07" y1="385.40" x2="321.27" y2="385.40" stroke="#ff0000" stroke-width="1.7"/>
<path d="M315.07,407.40 L321.27,407.40 L318.17,413.70 Z" fill="#ff0000"/>
<line x1="328.16" y1="406.70" x2="328.16" y2="379.70" stroke="#ff0000" stroke-width="1.5"/>
<line x1="325.06" y1="379.70" x2="331.26" y2="379.70" stroke="#ff0000" stroke-width="1.7"/>
<path d="M325.06,404.00 L331.26,404.00 L328.16,410.30 Z" fill="#ff0000"/>
<line x1="338.15" y1="403.50" x2="338.15" y2="377.10" stroke="#ff0000" stroke-width="1.5"/>
<line x1="335.05" y1="377.10" x2="341.25" y2="377.10" stroke="#ff0000" stroke-width="1.7"/>
<path d="M335.05,400.80 L341.25,400.80 L338.15,407.10 Z" fill="#ff0000"/>
<line x1="348.14" y1="396.20" x2="348.14" y2="368.40" stroke="#ff0000" stroke-width="1.5"/>
<line x1="345.04" y1="368.40" x2="351.24" y2="368.40" stroke="#ff0000" stroke-width="1.7"/>
<path d="M345.04,393.50 L351.24,393.50 L348.14,399.80 Z" fill="#ff0000"/>
<line x1="358.13" y1="397.90" x2="358.13" y2="368.40" stroke="#ff0000" stroke-width="1.5"/>
<line x1="355.03" y1="368.40" x2="361.23" y2="368.40" stroke="#ff0000" stroke-width="1.7"/>
<path d="M355.03,395.20 L361.23,395.20 L358.13,401.50 Z" fill="#ff0000"/>
<line x1="368.12" y1="389.20" x2="368.12" y2="359.70" stroke="#ff0000" stroke-width="1.5"/>
<line x1="365.02" y1="359.70" x2="371.22" y2="359.70" stroke="#ff0000" stroke-width="1.7"/>
<path d="M365.02,386.50 L371.22,386.50 L368.12,392.80 Z" fill="#ff0000"/>
<line x1="378.11" y1="386.30" x2="378.11" y2="355.90" stroke="#ff0000" stroke-width="1.5"/>
<line x1="375.01" y1="355.90" x2="381.21" y2="355.90" stroke="#ff0000" stroke-width="1.7"/>
<path d="M375.01,383.60 L381.21,383.60 L378.11,389.90 Z" fill="#ff0000"/>
<line x1="388.10" y1="384.00" x2="388.10" y2="353.60" stroke="#ff0000" stroke-width="1.5"/>
<line x1="385.00" y1="353.60" x2="391.20" y2="353.60" stroke="#ff0000" stroke-width="1.7"/>
<path d="M385.00,381.30 L391.20,381.30 L388.10,387.60 Z" fill="#ff0000"/>
<line x1="395.80" y1="384.00" x2="395.80" y2="455.00" stroke="#000" stroke-width="1.6"/>
<polygon points="402.50,417.30 403.06,418.64 404.50,418.75 403.40,419.69 403.73,421.10 402.50,420.34 401.27,421.10 401.60,419.69 400.50,418.75 401.94,418.64" fill="#000"/>
<polygon points="407.40,417.30 407.96,418.64 409.40,418.75 408.30,419.69 408.63,421.10 407.40,420.34 406.17,421.10 406.50,419.69 405.40,418.75 406.84,418.64" fill="#000"/>
<polygon points="412.20,417.30 412.76,418.64 414.20,418.75 413.10,419.69 413.43,421.10 412.20,420.34 410.97,421.10 411.30,419.69 410.20,418.75 411.64,418.64" fill="#000"/>
<line x1="320.60" y1="305.90" x2="337.10" y2="305.90" stroke="#ff0000" stroke-width="1.5"/>
<path d="M326.1,303.6 L332.0,303.6 L329.0,308.5 Z" fill="#ff0000"/>
<text transform="matrix(1,0,0,1.04,0,-12.428)" x="346.30" y="310.70" font-size="12.2" text-anchor="start" font-weight="normal" fill="#000" >Control</text>
<line x1="320.60" y1="325.90" x2="337.10" y2="325.90" stroke="#000" stroke-width="1.5"/>
<path d="M329,323.3 L331.6,325.9 L329,328.5 L326.4,325.9 Z" fill="#000"/>
<text transform="matrix(1,0,0,1.04,0,-13.224)" x="346.30" y="330.60" font-size="12.2" text-anchor="start" font-weight="normal" fill="#000" letter-spacing="0.2">SWE101</text>
<line x1="131.40" y1="298.65" x2="131.40" y2="410.35" stroke="#000" stroke-width="1.3"/>
<line x1="127.20" y1="409.70" x2="131.40" y2="409.70" stroke="#000" stroke-width="1.3"/>
<text transform="matrix(1,0,0,1.04,0,-16.504)" x="125.70" y="412.60" font-size="8" text-anchor="end" font-weight="normal" fill="#000" stroke="#000" stroke-width="0.18">0.0</text>
<line x1="127.20" y1="373.30" x2="131.40" y2="373.30" stroke="#000" stroke-width="1.3"/>
<text transform="matrix(1,0,0,1.04,0,-15.048)" x="125.70" y="376.20" font-size="8" text-anchor="end" font-weight="normal" fill="#000" stroke="#000" stroke-width="0.18">0.5</text>
<line x1="127.20" y1="336.30" x2="131.40" y2="336.30" stroke="#000" stroke-width="1.3"/>
<text transform="matrix(1,0,0,1.04,0,-13.568)" x="125.70" y="339.20" font-size="8" text-anchor="end" font-weight="normal" fill="#000" stroke="#000" stroke-width="0.18">1.0</text>
<line x1="127.20" y1="299.30" x2="131.40" y2="299.30" stroke="#000" stroke-width="1.3"/>
<text transform="matrix(1,0,0,1.04,0,-12.088)" x="125.70" y="302.20" font-size="8" text-anchor="end" font-weight="normal" fill="#000" stroke="#000" stroke-width="0.18">1.5</text>
<line x1="131.40" y1="409.70" x2="220.40" y2="409.70" stroke="#000" stroke-width="1.3"/>
<line x1="156.60" y1="409.70" x2="156.60" y2="414.50" stroke="#000" stroke-width="1.3"/>
<line x1="194.90" y1="409.70" x2="194.90" y2="414.50" stroke="#000" stroke-width="1.3"/>
<text transform="matrix(1,0,0,1.04,0,-16.936)" x="156.40" y="423.40" font-size="8.5" text-anchor="middle" font-weight="normal" fill="#000" stroke="#000" stroke-width="0.15">Control</text>
<text transform="matrix(1,0,0,1.04,0,-16.936)" x="194.60" y="423.40" font-size="8.5" text-anchor="middle" font-weight="normal" fill="#000" stroke="#000" stroke-width="0.15">SWE101</text>
<text x="0" y="0" font-size="9.2" text-anchor="middle" fill="#000" transform="translate(108.40,354.40) rotate(-90) scale(1,1.04)">AUC (fold change)</text>
<rect x="145.0" y="336.4" width="24.2" height="73.3" fill="#fff" stroke="#000" stroke-width="1.3"/>
<rect x="182.7" y="376.3" width="24.2" height="33.4" fill="#fff" stroke="#000" stroke-width="1.3"/>
<line x1="157.00" y1="336.40" x2="157.00" y2="322.30" stroke="#000" stroke-width="1.3"/>
<line x1="150.40" y1="322.30" x2="163.30" y2="322.30" stroke="#000" stroke-width="1.3"/>
<line x1="194.70" y1="376.30" x2="194.70" y2="365.30" stroke="#000" stroke-width="1.3"/>
<line x1="188.40" y1="365.30" x2="200.80" y2="365.30" stroke="#000" stroke-width="1.3"/>
<line x1="157.00" y1="314.40" x2="194.70" y2="314.40" stroke="#000" stroke-width="1.4"/>
<polygon points="177.50,307.80 178.03,309.07 179.40,309.18 178.36,310.08 178.68,311.42 177.50,310.70 176.32,311.42 176.64,310.08 175.60,309.18 176.97,309.07" fill="#000"/>
<text transform="matrix(1,0,0,1.04,0,-11.356)" x="443.00" y="283.90" font-size="16" text-anchor="start" font-weight="bold" fill="#000" >D</text>
<line x1="535.70" y1="295.85" x2="535.70" y2="462.25" stroke="#000" stroke-width="1.7"/>
<line x1="530.90" y1="461.40" x2="535.70" y2="461.40" stroke="#000" stroke-width="1.7"/>
<text transform="matrix(1,0,0,1.04,0,-18.612)" x="529.00" y="465.30" font-size="12.5" text-anchor="end" font-weight="normal" fill="#000" >0</text>
<line x1="530.90" y1="420.22" x2="535.70" y2="420.22" stroke="#000" stroke-width="1.7"/>
<text transform="matrix(1,0,0,1.04,0,-16.965)" x="529.00" y="424.12" font-size="12.5" text-anchor="end" font-weight="normal" fill="#000" >50</text>
<line x1="530.90" y1="379.05" x2="535.70" y2="379.05" stroke="#000" stroke-width="1.7"/>
<text transform="matrix(1,0,0,1.04,0,-15.318)" x="529.00" y="382.95" font-size="12.5" text-anchor="end" font-weight="normal" fill="#000" >100</text>
<line x1="530.90" y1="337.88" x2="535.70" y2="337.88" stroke="#000" stroke-width="1.7"/>
<text transform="matrix(1,0,0,1.04,0,-13.671)" x="529.00" y="341.77" font-size="12.5" text-anchor="end" font-weight="normal" fill="#000" >150</text>
<line x1="530.90" y1="296.70" x2="535.70" y2="296.70" stroke="#000" stroke-width="1.7"/>
<text transform="matrix(1,0,0,1.04,0,-12.024)" x="529.00" y="300.60" font-size="12.5" text-anchor="end" font-weight="normal" fill="#000" >200</text>
<rect x="544.60" y="329.00" width="31.30" height="132.40" fill="#fff" stroke="#000" stroke-width="1.7"/>
<rect x="594.20" y="379.40" width="31.10" height="82.00" fill="#fff" stroke="#000" stroke-width="1.7"/>
<rect x="643.80" y="346.60" width="31.20" height="114.80" fill="#fff" stroke="#000" stroke-width="1.7"/>
<line x1="534.85" y1="461.40" x2="685.00" y2="461.40" stroke="#000" stroke-width="1.7"/>
<line x1="560.20" y1="461.40" x2="560.20" y2="466.00" stroke="#000" stroke-width="1.7"/>
<line x1="609.90" y1="461.40" x2="609.90" y2="466.00" stroke="#000" stroke-width="1.7"/>
<line x1="659.40" y1="461.40" x2="659.40" y2="466.00" stroke="#000" stroke-width="1.7"/>
<text transform="matrix(1,0,0,1.04,0,-19.616)" x="538.30" y="490.40" font-size="12.7" text-anchor="end" font-weight="normal" fill="#000" >Pi (mM)</text>
<text transform="matrix(1,0,0,1.04,0,-20.472)" x="539.20" y="511.80" font-size="12.7" text-anchor="end" font-weight="normal" fill="#000" >SWE101 (μM)</text>
<text transform="matrix(1,0,0,1.04,0,-19.616)" x="561.10" y="490.40" font-size="12.7" text-anchor="middle" font-weight="normal" fill="#000" >0.9</text>
<text transform="matrix(1,0,0,1.04,0,-20.472)" x="561.10" y="511.80" font-size="12.7" text-anchor="middle" font-weight="normal" fill="#000" >0</text>
<text transform="matrix(1,0,0,1.04,0,-19.616)" x="610.80" y="490.40" font-size="12.7" text-anchor="middle" font-weight="normal" fill="#000" >3.8</text>
<text transform="matrix(1,0,0,1.04,0,-20.472)" x="610.80" y="511.80" font-size="12.7" text-anchor="middle" font-weight="normal" fill="#000" >0</text>
<text transform="matrix(1,0,0,1.04,0,-19.616)" x="660.30" y="490.40" font-size="12.7" text-anchor="middle" font-weight="normal" fill="#000" >3.8</text>
<text transform="matrix(1,0,0,1.04,0,-20.472)" x="660.30" y="511.80" font-size="12.7" text-anchor="middle" font-weight="normal" fill="#000" >1</text>
<text x="0" y="0" font-size="13.5" text-anchor="middle" transform="translate(484.0,379.9) rotate(-90) scale(1,1.04)">Relative HAEC PPi</text>
<text x="0" y="0" font-size="13.5" text-anchor="middle" transform="translate(499.8,379.8) rotate(-90) scale(1,1.04)">content (%)</text>
<line x1="560.10" y1="319.70" x2="560.10" y2="337.00" stroke="#0b650b" stroke-width="1.6"/>
<line x1="552.20" y1="319.70" x2="568.20" y2="319.70" stroke="#0b650b" stroke-width="1.7"/>
<line x1="552.20" y1="337.00" x2="568.20" y2="337.00" stroke="#0b650b" stroke-width="1.7"/>
<circle cx="560.1" cy="312.3" r="2.3" fill="none" stroke="#0b650b" stroke-width="0.9"/>
<circle cx="560.1" cy="330.3" r="2.3" fill="none" stroke="#0b650b" stroke-width="0.9"/>
<circle cx="560.1" cy="342.7" r="2.3" fill="none" stroke="#0b650b" stroke-width="0.9"/>
<rect x="597.60" y="376.60" width="4.6" height="4.6" fill="none" stroke="#b4141e" stroke-width="1"/>
<rect x="607.50" y="376.60" width="4.6" height="4.6" fill="none" stroke="#b4141e" stroke-width="1"/>
<rect x="617.40" y="376.60" width="4.6" height="4.6" fill="none" stroke="#b4141e" stroke-width="1"/>
<line x1="659.30" y1="332.50" x2="659.30" y2="359.70" stroke="#10108a" stroke-width="1.7"/>
<line x1="651.20" y1="332.50" x2="667.20" y2="332.50" stroke="#10108a" stroke-width="1.7"/>
<line x1="651.20" y1="359.70" x2="667.20" y2="359.70" stroke="#10108a" stroke-width="1.7"/>
<path d="M659.4,324.20 L662.0,328.10 L656.8,328.10 Z" fill="none" stroke="#10108a" stroke-width="0.9"/>
<path d="M659.4,338.90 L662.0,342.20 L656.8,342.20 Z" fill="none" stroke="#10108a" stroke-width="0.9"/>
<path d="M659.4,369.90 L662.0,373.90 L656.8,373.90 Z" fill="none" stroke="#10108a" stroke-width="0.9"/>
<line x1="559.30" y1="304.90" x2="610.20" y2="304.90" stroke="#000" stroke-width="1.8"/>
<line x1="611.10" y1="304.90" x2="661.40" y2="304.90" stroke="#000" stroke-width="1.8"/>
<polygon points="586.60,297.00 587.26,298.59 588.98,298.73 587.67,299.85 588.07,301.52 586.60,300.62 585.13,301.52 585.53,299.85 584.22,298.73 585.94,298.59" fill="#000"/>
<polygon points="635.10,297.00 635.76,298.59 637.48,298.73 636.17,299.85 636.57,301.52 635.10,300.62 633.63,301.52 634.03,299.85 632.72,298.73 634.44,298.59" fill="#000"/>
<g transform="matrix(1.00000,0.00000,0.00000,1.04000,0.0000,-6.7120)"><rect x="35.85" y="166.10" width="2.86" height="2.50" fill="#fff"/><rect x="39.87" y="166.10" width="2.71" height="2.50" fill="#fff"/></g>
<g transform="matrix(1.00000,0.00000,0.00000,1.04000,0.0000,-9.4280)"><rect x="296.93" y="234.00" width="2.86" height="2.50" fill="#fff"/><rect x="300.95" y="234.00" width="2.71" height="2.50" fill="#fff"/></g>
<g transform="matrix(1.00000,0.00000,0.00000,1.04000,0.0000,-6.5960)"><rect x="159.87" y="163.18" width="2.91" height="2.52" fill="#fff"/><rect x="163.97" y="163.18" width="2.76" height="2.52" fill="#fff"/></g>
<g transform="matrix(1.00000,0.00000,0.00000,1.04000,0.0000,-5.9720)"><rect x="378.85" y="147.60" width="2.86" height="2.50" fill="#fff"/><rect x="382.87" y="147.60" width="2.71" height="2.50" fill="#fff"/></g>
<g transform="matrix(1.00000,0.00000,0.00000,1.04000,0.0000,-9.3560)"><rect x="640.13" y="232.20" width="2.86" height="2.50" fill="#fff"/><rect x="644.15" y="232.20" width="2.71" height="2.50" fill="#fff"/></g>
<g transform="matrix(1.00000,0.00000,0.00000,1.04000,0.0000,-7.2800)"><rect x="457.76" y="180.28" width="2.91" height="2.52" fill="#fff"/><rect x="461.86" y="180.28" width="2.76" height="2.52" fill="#fff"/></g>
<g transform="matrix(1.00000,0.00000,0.00000,1.04000,0.0000,-17.8390)"><rect x="47.58" y="444.29" width="2.84" height="2.49" fill="#fff"/><rect x="51.57" y="444.29" width="2.69" height="2.49" fill="#fff"/></g>
<g transform="matrix(1.00000,0.00000,0.00000,1.04000,0.0000,-21.0880)"><rect x="181.74" y="525.53" width="2.79" height="2.47" fill="#fff"/><rect x="185.66" y="525.53" width="2.64" height="2.47" fill="#fff"/></g>
<g transform="matrix(1.00000,0.00000,0.00000,1.04000,0.0000,-13.2240)"><rect x="374.94" y="328.94" width="2.77" height="2.46" fill="#fff"/><rect x="378.83" y="328.94" width="2.62" height="2.46" fill="#fff"/></g>
<g transform="matrix(1.00000,0.00000,0.00000,1.04000,0.0000,-13.2240)"><rect x="388.89" y="328.94" width="2.77" height="2.46" fill="#fff"/><rect x="392.78" y="328.94" width="2.62" height="2.46" fill="#fff"/></g>
<g transform="matrix(1.00000,0.00000,0.00000,1.04000,0.0000,-13.5680)"><rect x="114.53" y="337.85" width="2.03" height="2.15" fill="#fff"/><rect x="117.31" y="337.85" width="1.92" height="2.15" fill="#fff"/></g>
<g transform="matrix(1.00000,0.00000,0.00000,1.04000,0.0000,-12.0880)"><rect x="114.53" y="300.85" width="2.03" height="2.15" fill="#fff"/><rect x="117.31" y="300.85" width="1.92" height="2.15" fill="#fff"/></g>
<g transform="matrix(1.00000,0.00000,0.00000,1.04000,0.0000,-16.9360)"><rect x="197.18" y="422.01" width="2.12" height="2.19" fill="#fff"/><rect x="200.09" y="422.01" width="2.00" height="2.19" fill="#fff"/></g>
<g transform="matrix(1.00000,0.00000,0.00000,1.04000,0.0000,-16.9360)"><rect x="206.64" y="422.01" width="2.12" height="2.19" fill="#fff"/><rect x="209.55" y="422.01" width="2.00" height="2.19" fill="#fff"/></g>
<g transform="matrix(1.00000,0.00000,0.00000,1.04000,0.0000,-15.3180)"><rect x="508.44" y="381.27" width="2.82" height="2.48" fill="#fff"/><rect x="512.41" y="381.27" width="2.67" height="2.48" fill="#fff"/></g>
<g transform="matrix(1.00000,0.00000,0.00000,1.04000,0.0000,-13.6710)"><rect x="508.44" y="340.09" width="2.82" height="2.48" fill="#fff"/><rect x="512.41" y="340.09" width="2.67" height="2.48" fill="#fff"/></g>
<g transform="matrix(1.00000,0.00000,0.00000,1.04000,0.0000,-20.4720)"><rect x="488.47" y="510.10" width="2.86" height="2.50" fill="#fff"/><rect x="492.49" y="510.10" width="2.71" height="2.50" fill="#fff"/></g>
<g transform="matrix(1.00000,0.00000,0.00000,1.04000,0.0000,-20.4720)"><rect x="502.58" y="510.10" width="2.86" height="2.50" fill="#fff"/><rect x="506.60" y="510.10" width="2.71" height="2.50" fill="#fff"/></g>
<g transform="matrix(1.00000,0.00000,0.00000,1.04000,0.0000,-20.4720)"><rect x="657.09" y="510.10" width="2.86" height="2.50" fill="#fff"/><rect x="661.10" y="510.10" width="2.71" height="2.50" fill="#fff"/></g>
</svg>
</body></html>
